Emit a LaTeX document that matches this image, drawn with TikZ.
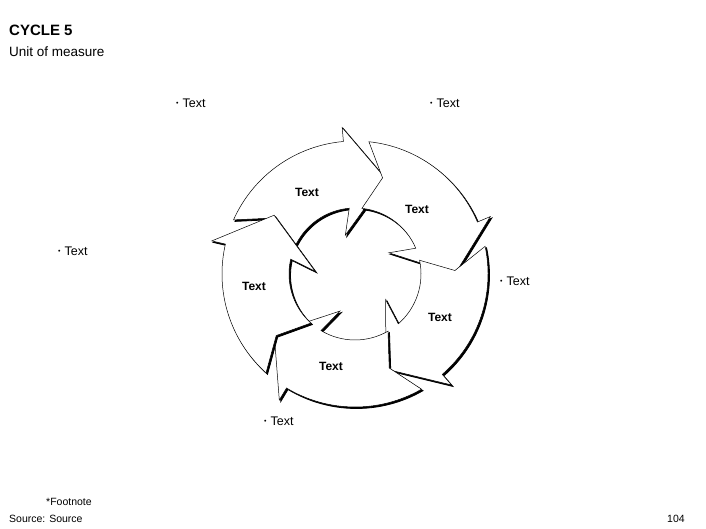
\documentclass[tikz,border=0pt]{standalone}
\usepackage{fontspec}
\setmainfont{Liberation Sans}
\tikzset{
 seg/.style={fill=white,draw=black,line width=0.5pt},
 shad/.style={fill=black,draw=black,line width=0.8pt},
 lbl/.style={font=\fontsize{12}{14}\selectfont\bfseries,inner sep=0},
 bul/.style={font=\fontsize{12.5}{14}\selectfont,inner sep=0,anchor=west},
 hdr/.style={inner sep=0,anchor=west},
}
\newcommand\bulx{{\fontsize{7}{8}\selectfont\raisebox{1.5pt}{•}}\hspace{4pt}}
\newcommand\arrowseg[1]{%
 (#1+156:133) arc[start angle=#1+156,end angle=#1+95,radius=133] -- (#1+95:147) -- (#1+72:100) -- (#1+104:40) -- (#1+95:66) arc[start angle=#1+95,end angle=#1+156,radius=66] -- (#1+146:100) -- cycle}
\begin{document}
\begin{tikzpicture}[x=1pt,y=1pt]
\useasboundingbox (0,0) rectangle (706,529);
\begin{scope}[shift={(355,255)}]
\foreach \k in {0,1,2,3,4}{
 \pgfmathsetmacro\r{-72*\k}
 \fill[shad,xshift=1.5pt,yshift=-1.5pt] \arrowseg{\r};
 \draw[seg] \arrowseg{\r};
}
\end{scope}
\node[lbl] (t1) at (307,337) {Text};
\node[lbl] (t2) at (417,320) {Text};
\node[lbl] (t3) at (440,212) {Text};
\node[lbl] (t4) at (331,163) {Text};
\node[lbl] (t5) at (254,243) {Text};
\node[bul] (b1) at (176,426) {\bulx Text};
\node[bul] (b2) at (430,426) {\bulx Text};
\node[bul] (b3) at (58,278) {\bulx Text};
\node[bul] (b4) at (500,248) {\bulx Text};
\node[bul] (b5) at (264,108) {\bulx Text};
\node[hdr,font=\fontsize{15}{17}\selectfont\bfseries] (h1) at (9,499) {CYCLE 5};
\node[hdr,font=\fontsize{13.5}{15}\selectfont] (h2) at (9,477) {Unit of measure};
\node[hdr,font=\fontsize{10.5}{12}\selectfont] (f1) at (46,27) {*Footnote};
\node[hdr,font=\fontsize{10.5}{12}\selectfont] (f2) at (9,10) {Source: Source};
\node[hdr,font=\fontsize{10.5}{12}\selectfont] (pg) at (667,10) {104};
\end{tikzpicture}
\end{document}
